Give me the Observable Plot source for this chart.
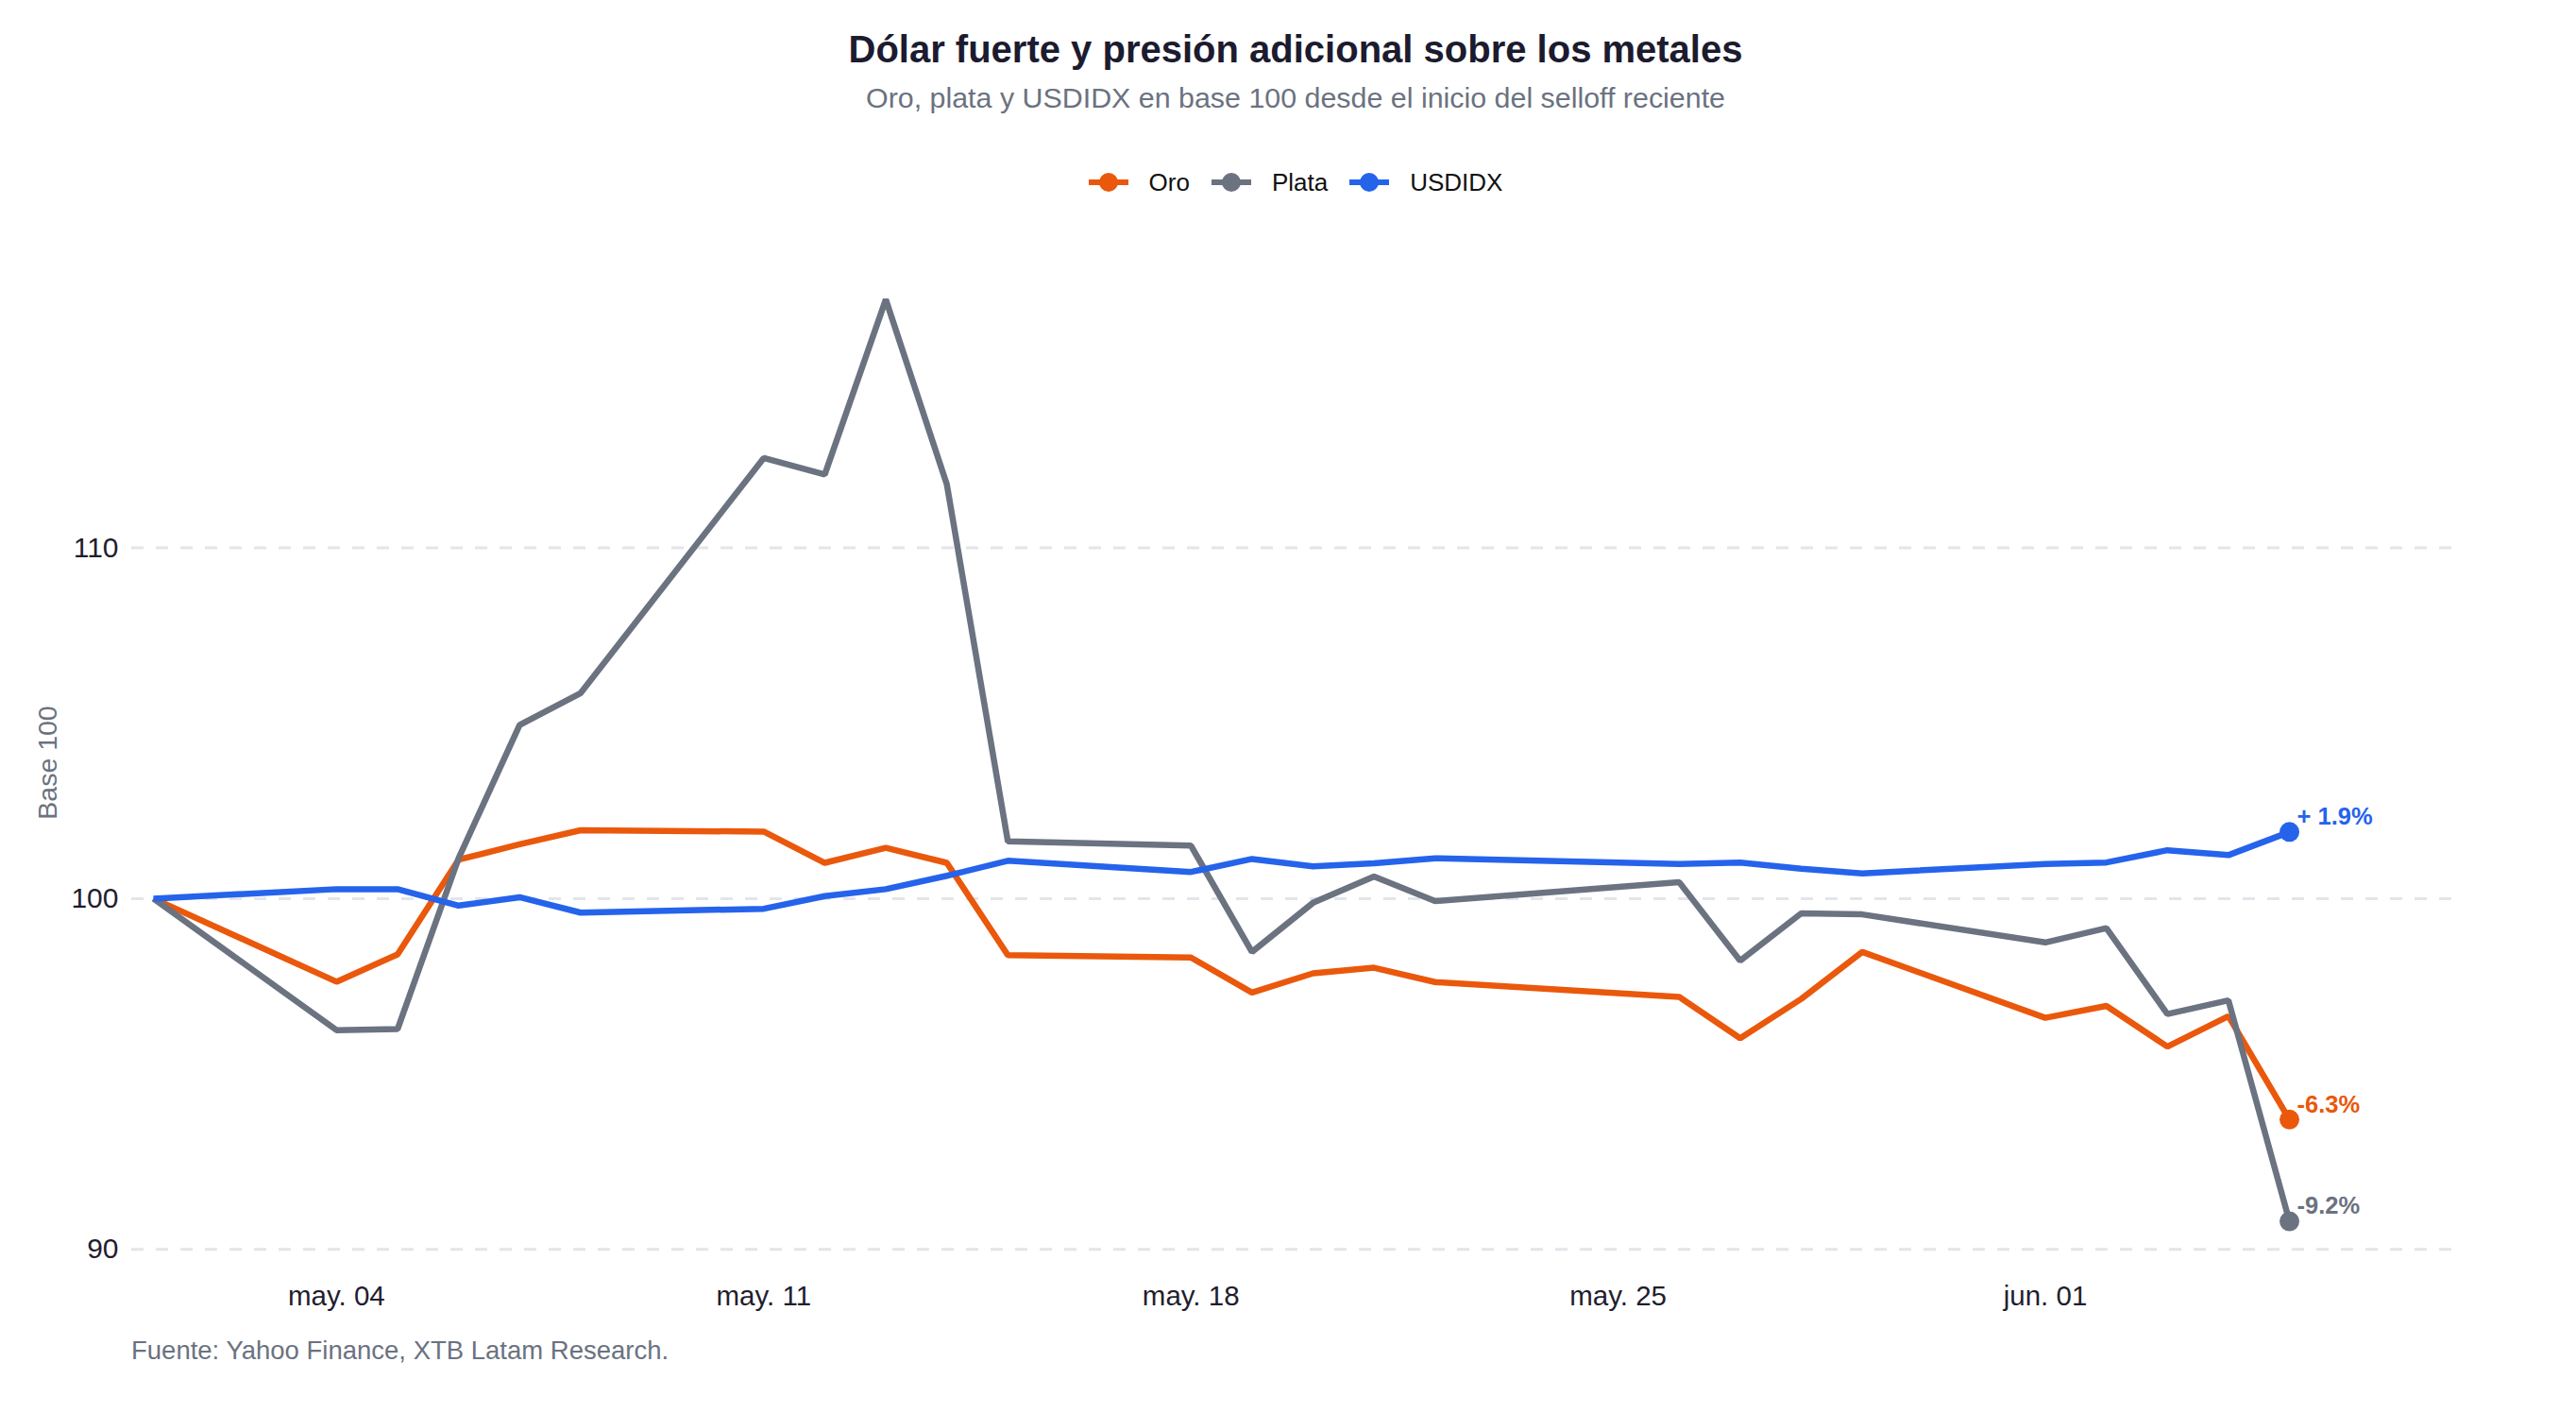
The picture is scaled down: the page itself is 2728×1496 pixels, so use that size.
<!DOCTYPE html>
<html>
<head>
<meta charset="utf-8">
<script src="https://cdn.jsdelivr.net/npm/d3@7"></script>
<script src="https://cdn.jsdelivr.net/npm/@observablehq/plot@0.6"></script>
<style>
  body { margin: 0; background: #fff; font-family: "Liberation Sans", Arial, Helvetica, sans-serif; }
  #wrap { width: 2728px; }
  #header { position: relative; height: 230px; }
  .t { position: absolute; left: 139px; width: 2466px; text-align: center; white-space: nowrap; }
  #title { top: 32px; font-size: 40px; line-height: 40px; font-weight: bold; color: #1c1b2f; }
  #subtitle { top: 88px; font-size: 30.4px; line-height: 30px; color: #6b7280; }
  #legend { top: 180px; height: 26px; display: flex; justify-content: center; align-items: center; gap: 23px; font-size: 26px; line-height: 26px; color: #111; }
  .item { display: flex; align-items: center; }
  .item svg { margin-right: 22px; display: block; }
  #caption { margin-left: 139px; margin-top: 16px; font-size: 27.5px; line-height: 27px; color: #6b7280; }
</style>
</head>
<body>
<div id="wrap">
  <div id="header">
    <div id="title" class="t"></div>
    <div id="subtitle" class="t"></div>
    <div id="legend" class="t"></div>
  </div>
  <div id="chart"></div>
  <div id="caption"></div>
</div>
<script>
// ---- Data ----
const titleText = "Dólar fuerte y presión adicional sobre los metales";
const subtitleText = "Oro, plata y USDIDX en base 100 desde el inicio del selloff reciente";
const captionText = "Fuente: Yahoo Finance, XTB Latam Research.";
const yLabel = "Base 100";

const dates = ["2026-05-01","2026-05-04","2026-05-05","2026-05-06","2026-05-07","2026-05-08",
  "2026-05-11","2026-05-12","2026-05-13","2026-05-14","2026-05-15",
  "2026-05-18","2026-05-19","2026-05-20","2026-05-21","2026-05-22",
  "2026-05-26","2026-05-27","2026-05-28","2026-05-29",
  "2026-06-01","2026-06-02","2026-06-03","2026-06-04","2026-06-05"];
const oro = [100, 97.63, 98.41, 101.11, 101.55, 101.95, 101.91, 101.02, 101.45, 101.02, 98.39,
  98.32, 97.32, 97.87, 98.03, 97.62, 97.20, 96.02, 97.14, 98.48, 96.60, 96.94, 95.78, 96.65, 93.70];
const plata = [100, 96.25, 96.28, 101.15, 104.95, 105.86, 112.56, 112.09, 117.08, 111.81, 101.63,
  101.51, 98.48, 99.88, 100.63, 99.93, 100.47, 98.23, 99.58, 99.55, 98.75, 99.16, 96.71, 97.10, 90.80];
const usdidx = [100, 100.27, 100.27, 99.80, 100.04, 99.60, 99.71, 100.07, 100.27, 100.65, 101.08,
  100.76, 101.13, 100.92, 101.01, 101.15, 100.99, 101.03, 100.85, 100.72, 100.99, 101.03, 101.38, 101.24, 101.90];

const seriesNames = ["Oro", "Plata", "USDIDX"];
const seriesColors = ["#ea580c", "#6b7280", "#2563eb"];
const endLabels = ["-6.3%", "-9.2%", "+ 1.9%"];

const xTickDates = ["2026-05-04", "2026-05-11", "2026-05-18", "2026-05-25", "2026-06-01"];
const xTickLabels = ["may. 04", "may. 11", "may. 18", "may. 25", "jun. 01"];
const yTicks = [90, 100, 110];

// ---- Build ----
const parse = d3.utcParse("%Y-%m-%d");
const seriesValues = [oro, plata, usdidx];
const rows = [];
seriesNames.forEach((s, k) => {
  dates.forEach((d, i) => rows.push({series: s, date: parse(d), value: seriesValues[k][i]}));
});
const lastRows = seriesNames.map((s, k) => ({
  series: s, date: parse(dates[dates.length - 1]),
  value: seriesValues[k][dates.length - 1], label: endLabels[k]
}));
const tickDates = xTickDates.map(parse);
const tickMap = new Map(tickDates.map((d, i) => [+d, xTickLabels[i]]));

const day = 86400000;
const x0 = new Date(+parse(dates[0]) - 0.356 * day);
const x1 = new Date(+parse(dates[dates.length - 1]) + 2.8 * day);

document.getElementById("title").textContent = titleText;
document.getElementById("subtitle").textContent = subtitleText;
document.getElementById("caption").textContent = captionText;

const legend = document.getElementById("legend");
seriesNames.forEach((s, k) => {
  const item = document.createElement("div");
  item.className = "item";
  item.innerHTML = `<svg width="42" height="22"><line x1="0" x2="42" y1="11" y2="11" stroke="${seriesColors[k]}" stroke-width="6"/><circle cx="21" cy="11" r="10" fill="${seriesColors[k]}"/></svg><span>${s}</span>`;
  legend.appendChild(item);
});

const chart = Plot.plot({
  width: 2728,
  height: 1170,
  marginTop: 35,
  marginBottom: 51,
  marginLeft: 139,
  marginRight: 123,
  style: {fontFamily: '"Liberation Sans", Arial, Helvetica, sans-serif', fontSize: "29px", color: "#1f1e2e", background: "#fff", overflow: "visible"},
  x: {type: "utc", domain: [x0, x1]},
  y: {domain: [89.28, 118.47]},
  color: {domain: seriesNames, range: seriesColors},
  marks: [
    Plot.gridY(yTicks, {stroke: "#e3e5ea", strokeOpacity: 1, strokeWidth: 3, strokeDasharray: "13,13"}),
    Plot.axisY({ticks: yTicks, tickSize: 0, tickPadding: 14, label: null, fontSize: 30}),
    Plot.axisX({ticks: tickDates, tickFormat: d => tickMap.get(+d), tickSize: 0, tickPadding: 12, label: null, fontSize: 29.5}),
    Plot.text([yLabel], {frameAnchor: "left", textAnchor: "middle", dx: -89, rotate: -90, fill: "#6b7280", fontSize: 28.5}),
    Plot.line(rows, {x: "date", y: "value", z: "series", stroke: "series", strokeWidth: 6.5, strokeLinejoin: "miter", strokeLinecap: "butt"}),
    Plot.dot(lastRows, {x: "date", y: "value", fill: "series", r: 10.5}),
    Plot.text(lastRows, {x: "date", y: "value", text: "label", fill: "series", dx: 8, dy: -16, textAnchor: "start", fontSize: 25.5, fontWeight: "bold"})
  ]
});
document.getElementById("chart").appendChild(chart);
</script>
</body>
</html>
